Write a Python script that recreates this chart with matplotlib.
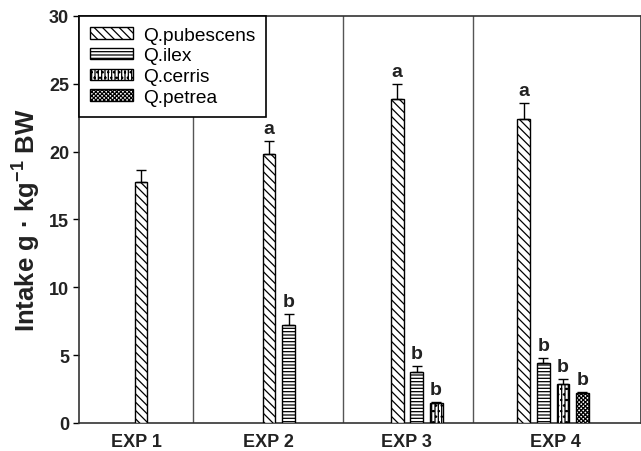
import numpy as np
import matplotlib
matplotlib.use('Agg')
import matplotlib.pyplot as plt

plt.rcParams['font.family'] = ['Liberation Sans', 'DejaVu Sans']
plt.rcParams['mathtext.fontset'] = 'custom'
plt.rcParams['mathtext.rm'] = 'Liberation Sans'
plt.rcParams['mathtext.bf'] = 'Liberation Sans:bold'
plt.rcParams['hatch.linewidth'] = 0.9

# Data
groups = ['EXP 1', 'EXP 2', 'EXP 3', 'EXP 4']
species = ['Q.pubescens', 'Q.ilex', 'Q.cerris', 'Q.petrea']
pubescens = [17.8, 19.8, 23.9, 22.4]
pubescens_err = [0.85, 1.0, 1.1, 1.2]
ilex = [np.nan, 7.2, 3.75, 4.4]
ilex_err = [np.nan, 0.8, 0.45, 0.4]
cerris = [np.nan, np.nan, 1.45, 2.9]
cerris_err = [np.nan, np.nan, 0.1, 0.35]
petrea = [np.nan, np.nan, np.nan, 2.2]
petrea_err = [np.nan, np.nan, np.nan, 0.1]
letters = {
    'Q.pubescens': ['', 'a', 'a', 'a'],
    'Q.ilex': ['', 'b', 'b', 'b'],
    'Q.cerris': ['', '', 'b', 'b'],
    'Q.petrea': ['', '', '', 'b'],
}

values = [pubescens, ilex, cerris, petrea]
errors = [pubescens_err, ilex_err, cerris_err, petrea_err]
hatches = ['\\\\\\\\', '-----', '|||||...', 'xxxxxxxx']

# layout of the x axis (in bar-step units)
first_bar = [3.18, 9.74, 16.3, 22.8]
separators = [5.85, 13.54, 20.2]
group_centers = [2.93, 9.7, 16.8, 24.4]
step = 1.0
width = 0.66

fig = plt.figure(figsize=(6.41, 4.52), dpi=100)
ax = fig.add_axes([0.1232, 0.062, 0.8768, 0.9004])

for i, (name, vals, errs, h) in enumerate(zip(species, values, errors, hatches)):
    for g in range(len(groups)):
        v = vals[g]
        if np.isnan(v):
            continue
        x = first_bar[g] + i * step
        ax.bar(x, v, width=width, facecolor='white', edgecolor='black',
               hatch=h, linewidth=1.0, zorder=3,
               label=name if g == len(groups) - 1 else None)
        e = errs[g]
        ax.errorbar(x, v, yerr=[[0], [e]], fmt='none', ecolor='black',
                    elinewidth=1.0, capsize=3.5, capthick=1.0, zorder=4)
        lab = letters[name][g]
        if lab:
            ax.text(x, v + e + 0.3, lab, ha='center', va='bottom',
                    fontsize=14, fontweight='bold', color='#222222')

for s in separators:
    ax.axvline(s, color='#555555', linewidth=1.0, zorder=1)

ax.set_xlim(0, 28.8)
ax.set_ylim(0, 30)
ax.set_yticks(np.arange(0, 31, 5))
ax.set_xticks(group_centers)
ax.set_xticklabels(groups)
ax.tick_params(axis='x', length=0, pad=7)
ax.tick_params(axis='y', length=4, width=1, direction='out', pad=3)
for lbl in ax.get_xticklabels() + ax.get_yticklabels():
    lbl.set_fontsize(13)
    lbl.set_fontweight('bold')
    lbl.set_color('#222222')

ax.set_ylabel('Intake g \u00b7 kg$^{\\mathbf{-1}}$ BW', fontsize=18.5,
              fontweight='bold', color='#222222', labelpad=5)

for sp in ax.spines.values():
    sp.set_linewidth(1.2)
    sp.set_color('#333333')

leg = ax.legend(loc='upper left', bbox_to_anchor=(0, 1), borderaxespad=0,
                fancybox=False, framealpha=1, edgecolor='black',
                prop={'size': 13.8}, handlelength=2.25, handleheight=0.55,
                handletextpad=0.55, labelspacing=0.2, borderpad=0.55)
leg.get_frame().set_linewidth(1.2)
leg.set_zorder(5)

fig.savefig('out.png', dpi=100)
